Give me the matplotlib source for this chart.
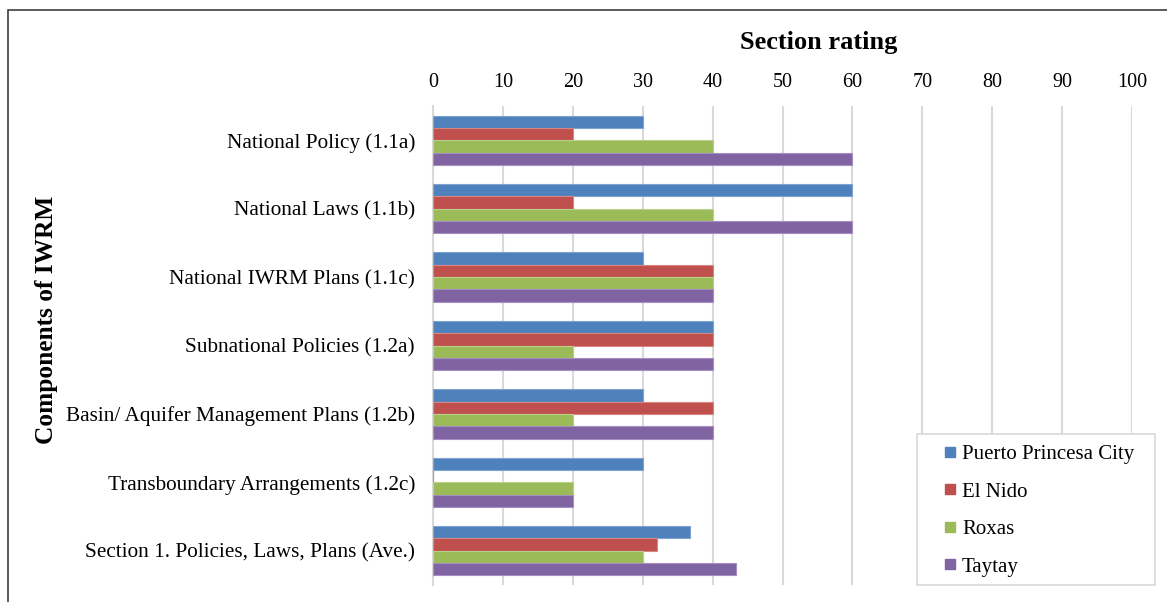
import numpy as np
import matplotlib
matplotlib.use('Agg')
import matplotlib.pyplot as plt
from matplotlib.patches import Rectangle
from matplotlib.lines import Line2D

plt.rcParams['font.family'] = ['Liberation Serif', 'DejaVu Serif']

categories = ['National Policy (1.1a)', 'National Laws (1.1b)', 'National IWRM Plans (1.1c)',
              'Subnational Policies (1.2a)', 'Basin/ Aquifer Management Plans (1.2b)',
              'Transboundary Arrangements (1.2c)', 'Section 1. Policies, Laws, Plans (Ave.)']
series = ['Puerto Princesa City', 'El Nido', 'Roxas', 'Taytay']
puerto = [30, 60, 30, 40, 30, 30, 36.7]
el_nido = [20, 20, 40, 40, 40, 0, 32]
roxas = [40, 40, 40, 20, 20, 20, 30]
taytay = [60, 60, 40, 40, 40, 20, 43.3]
colors = ['#4F81BD', '#C0504D', '#9BBB59', '#8064A2']
edges = ['#7FA3D1', '#D68683', '#B8D08A', '#A58EC0']

W, H = 1167, 602
fig = plt.figure(figsize=(W / 100, H / 100), dpi=100)
ax = fig.add_axes([433 / W, 1 - 585 / H, (1132 - 433) / W, (585 - 106) / H])

y = np.arange(len(categories))
bh = 0.18
for i, (vals, c, ec) in enumerate(zip([puerto, el_nido, roxas, taytay], colors, edges)):
    ax.barh(y + (i - 1.5) * bh, vals, height=bh, color=c, edgecolor=ec, linewidth=0.8,
            zorder=3)

ax.set_xlim(0, 100)
ax.set_ylim(len(categories) - 0.5, -0.5)
ax.set_xticks(np.arange(0, 101, 10))
ax.xaxis.tick_top()
ax.tick_params(axis='x', length=0, labelsize=14.5, pad=10)
ax.set_yticks(y)
ax.set_yticklabels(categories, fontsize=15.3)
ax.tick_params(axis='y', length=0, pad=13)
ax.grid(axis='x', color='#D9D9D9', linewidth=1.5, zorder=0)
for s in ['top', 'right', 'bottom']:
    ax.spines[s].set_visible(False)
ax.spines['left'].set_color('#D9D9D9')
ax.spines['left'].set_linewidth(1.5)

fig.text(819 / W, 1 - 42 / H, 'Section rating', fontsize=19, fontweight='bold',
         ha='center', va='center')
fig.text(46 / W, 1 - 320 / H, 'Components of IWRM', fontsize=18.3, fontweight='bold',
         rotation=90, ha='center', va='center')

# legend box drawn separately, entries placed inside it
box = Rectangle((917 / W, 1 - 585 / H), (1155 - 917) / W, (585 - 434) / H,
                transform=fig.transFigure, facecolor='white', edgecolor='#D9D9D9',
                linewidth=1.2, zorder=5, clip_on=False)
ax.add_artist(box)
handles = [Line2D([], [], linestyle='none', marker='s', markersize=7.5, markerfacecolor=c,
                  markeredgecolor=c) for c in colors]
leg = ax.legend(handles, series, loc='center left', bbox_to_anchor=(940 / W, 1 - 510.5 / H),
                bbox_transform=fig.transFigure, fontsize=15, frameon=False,
                handlelength=1.0, handletextpad=0.06, labelspacing=0.86,
                borderpad=0, borderaxespad=0)
leg.set_zorder(6)

fig.patches.append(Rectangle((8 / W, -0.1), 1.2, 1 - 10 / H + 0.1, transform=fig.transFigure,
                             fill=False, edgecolor='#404040', linewidth=1.2))

fig.savefig('out.png', dpi=100)
